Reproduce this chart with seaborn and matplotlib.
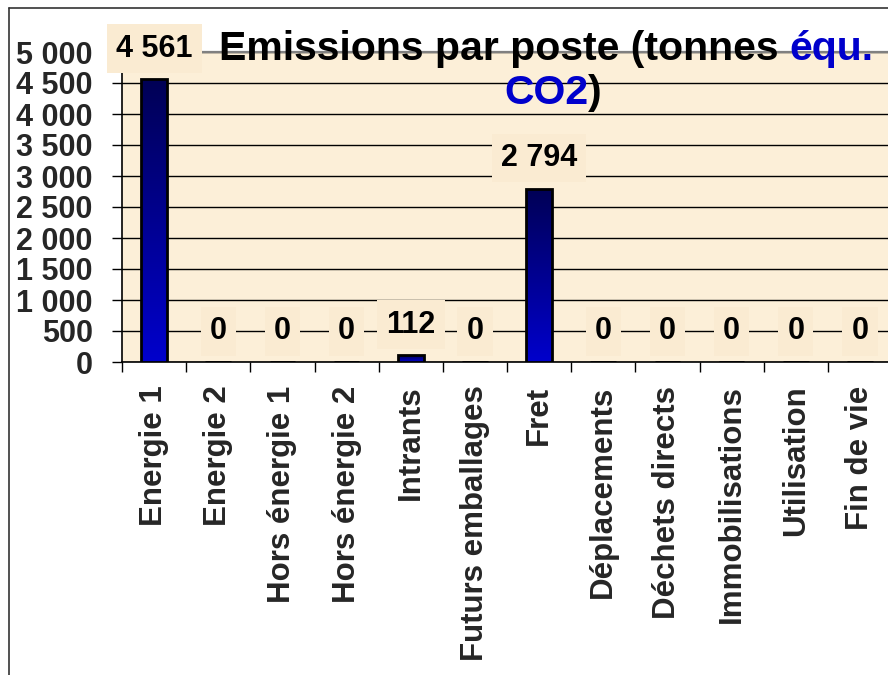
import numpy as np
import pandas as pd
import matplotlib
matplotlib.use("Agg")
import matplotlib.pyplot as plt
import seaborn as sns
from matplotlib.colors import LinearSegmentedColormap
from matplotlib.lines import Line2D
from matplotlib.ticker import FuncFormatter, FixedLocator
from matplotlib.transforms import IdentityTransform

postes = ["Energie 1", "Energie 2", "Hors énergie 1", "Hors énergie 2", "Intrants",
          "Futurs emballages", "Fret", "Déplacements", "Déchets directs",
          "Immobilisations", "Utilisation", "Fin de vie"]
emissions = [4561, 0, 0, 0, 112, 0, 2794, 0, 0, 0, 0, 0]
y_ticks = [0, 500, 1000, 1500, 2000, 2500, 3000, 3500, 4000, 4500, 5000]

sns.set_theme(style="white")
plt.rcParams["font.family"] = ["Liberation Sans", "DejaVu Sans"]
plt.rcParams["font.weight"] = "bold"

W, H = 888, 675
fig = plt.figure(figsize=(W / 100, H / 100), dpi=100)
fig.patch.set_facecolor("white")
ax = fig.add_axes([122 / W, (H - 362) / H, (892 - 122) / W, (362 - 52) / H])
ax.set_facecolor("#FCEFD8")

df = pd.DataFrame({"poste": postes, "emissions": emissions})
sns.barplot(data=df, x="poste", y="emissions", ax=ax, width=0.4,
            color="#0000CC", edgecolor="black", linewidth=2, zorder=3)

# vertical gradient fill inside every bar
cmap = LinearSegmentedColormap.from_list("bar", ["#0000CC", "#000055"])
grad = np.linspace(0, 1, 256).reshape(-1, 1)
for p in ax.patches:
    x0, y0, w, h = p.get_x(), p.get_y(), p.get_width(), p.get_height()
    if h <= 0:
        continue
    im = ax.imshow(grad, extent=(x0, x0 + w, y0, y0 + h), origin="lower",
                   cmap=cmap, aspect="auto", zorder=3.5, interpolation="bilinear")
    im.set_clip_path(p)
    p.set_facecolor("none")
    p.set_zorder(4)

ax.set_xlim(-0.5, len(postes) - 0.5)
ax.set_ylim(y_ticks[0], y_ticks[-1])
ax.set_xlabel("")
ax.set_ylabel("")

ax.set_axisbelow(True)
ax.yaxis.set_major_locator(FixedLocator(y_ticks))
ax.yaxis.set_major_formatter(FuncFormatter(lambda v, _: f"{int(v):,}".replace(",", " ")))
ax.yaxis.grid(True, color="black", lw=1)
ax.xaxis.grid(False)

ax.spines["right"].set_visible(False)
ax.spines["top"].set_color("#808080")
ax.spines["top"].set_linewidth(1.6)
for s in ("left", "bottom"):
    ax.spines[s].set_color("black")
    ax.spines[s].set_linewidth(1.2)

ax.tick_params(axis="y", left=True, length=7, width=1, color="black",
               direction="out", pad=14, labelsize=22)
ax.set_xticks(range(len(postes)))
ax.set_xticklabels(postes, rotation=90, fontsize=22.5, fontweight="bold")
ax.set_xticks(np.arange(-0.5, len(postes), 1.0), minor=True)
ax.tick_params(axis="x", which="major", bottom=True, length=0, pad=17)
ax.tick_params(axis="x", which="minor", bottom=True, length=7, width=1,
               color="black", direction="out")
for lab in ax.get_yticklabels():
    lab.set_fontweight("bold")

# value labels above bars
for i, v in enumerate(emissions):
    ax.annotate(f"{v:,}".replace(",", " "), (i, v), xytext=(0, 22),
                textcoords="offset points", ha="center", va="center",
                fontsize=22, fontweight="bold", color="black",
                bbox=dict(boxstyle="square,pad=0.3", fc="#FAEBD2", ec="none"),
                zorder=6, annotation_clip=False)

# chart frame
fig.add_artist(Line2D([9 / W, 1], [1 - 8 / H, 1 - 8 / H], transform=fig.transFigure,
                      color="#333333", lw=1.2))
fig.add_artist(Line2D([9 / W, 9 / W], [0, 1 - 8 / H], transform=fig.transFigure,
                      color="#333333", lw=1.2))

# two-colour title, centred line by line
fig.canvas.draw()
rend = fig.canvas.get_renderer()
tsize = 29.5
blue = "#0000CC"


def width_of(s):
    t = fig.text(0, 0, s, fontsize=tsize, fontweight="bold", transform=IdentityTransform())
    wdt = t.get_window_extent(rend).width
    t.remove()
    return wdt


space_w = width_of("a a") - width_of("aa")


def title_line(parts, cx, y_base):
    widths = [width_of(s) for s, _ in parts]
    gaps = [space_w if s.startswith(" ") else 0 for s, _ in parts]
    total = sum(widths) + sum(gaps)
    x = cx - total / 2
    for (s, c), wdt, g in zip(parts, widths, gaps):
        x += g
        fig.text(x, y_base, s.strip(), color=c, fontsize=tsize, fontweight="bold",
                 ha="left", va="baseline", transform=IdentityTransform(), zorder=7)
        x += wdt


title_line([("Emissions par poste (tonnes", "black"), (" équ.", blue)], 552, H - 60)
title_line([("CO2", blue), (")", "black")], 553, H - 104)

fig.savefig("out.png", dpi=100)
